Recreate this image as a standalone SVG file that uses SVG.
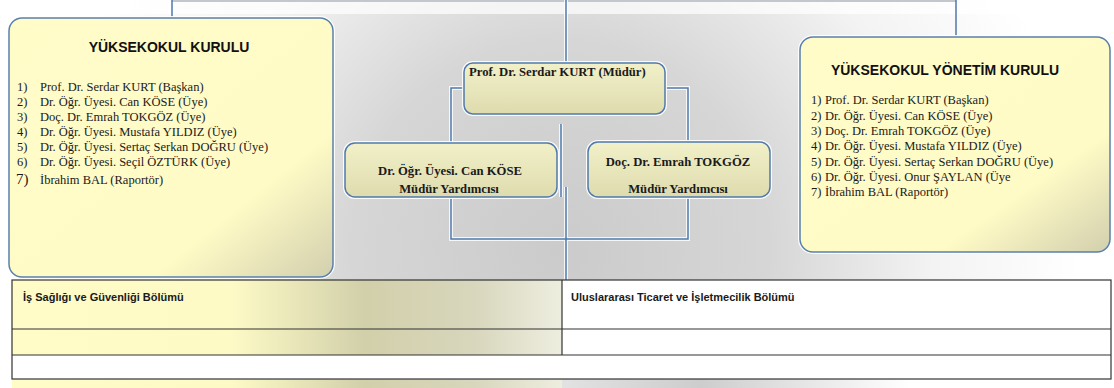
<svg xmlns="http://www.w3.org/2000/svg" width="1114" height="388" viewBox="0 0 1114 388">
<style>
.conn{fill:none;stroke:#4f79aa;stroke-width:1.5}
.halo{fill:none;stroke:#ffffff;stroke-width:4;opacity:0.8}
.big{fill:url(#bigFill);stroke:#5a80ab;stroke-width:1.5}
.mid{fill:url(#midFill);stroke:#4f79aa;stroke-width:1.5}
.glow{fill:none;stroke:#ffffff;stroke-width:4;opacity:0.9}
.title{font-family:"Liberation Sans",Arial,sans-serif;font-weight:bold;font-size:14px;fill:#111;text-anchor:middle}
.list{font-family:"Liberation Serif","Times New Roman",serif;font-size:12.5px;fill:#1a1a1a}
.mtxt{font-family:"Liberation Serif","Times New Roman",serif;font-weight:bold;font-size:12.7px;fill:#1a1a1a}
.ttxt{font-family:"Liberation Sans",Arial,sans-serif;font-weight:bold;font-size:11px;fill:#1a1a1a}
.cell{stroke:#333;stroke-width:1.2}
</style>
<defs>
<radialGradient id="bg" cx="560" cy="250" r="520" gradientUnits="userSpaceOnUse">
<stop offset="0" stop-color="#cbcbcb"/>
<stop offset="0.4" stop-color="#d6d6d6"/>
<stop offset="0.72" stop-color="#f3f3f3"/>
<stop offset="1" stop-color="#ffffff"/>
</radialGradient>
<linearGradient id="bigFill" x1="0" y1="0" x2="1" y2="1">
<stop offset="0" stop-color="#fffcc9"/>
<stop offset="0.72" stop-color="#fffbc6"/>
<stop offset="1" stop-color="#d2cfae"/>
</linearGradient>
<linearGradient id="midFill" x1="0" y1="0" x2="0" y2="1">
<stop offset="0" stop-color="#f2f0c8"/>
<stop offset="1" stop-color="#dedcae"/>
</linearGradient>
<linearGradient id="yelStrip" x1="12" y1="0" x2="562" y2="0" gradientUnits="userSpaceOnUse">
<stop offset="0" stop-color="#fffcc8"/>
<stop offset="0.4" stop-color="#fdfac6"/>
<stop offset="0.64" stop-color="#d2d0aa"/>
<stop offset="0.84" stop-color="#d8d6bc"/>
<stop offset="1" stop-color="#eeeee0"/>
</linearGradient>
<linearGradient id="grayStrip" x1="562" y1="0" x2="910" y2="0" gradientUnits="userSpaceOnUse">
<stop offset="0" stop-color="#e2e2e2"/>
<stop offset="0.4" stop-color="#cdcdcd"/>
<stop offset="1" stop-color="#ffffff"/>
</linearGradient>
</defs>

<g id="background">
<rect x="0" y="0" width="1114" height="388" fill="#ffffff"/>
<rect x="0" y="0" width="1114" height="280" fill="url(#bg)"/>
<rect x="0" y="0" width="1114" height="14" fill="#ffffff" opacity="0.7"/>
<rect x="12" y="280" width="550" height="108" fill="url(#yelStrip)"/>
<rect x="562" y="280" width="552" height="108" fill="url(#grayStrip)"/>
</g>

<g id="connectors">
<path d="M172 1 H956" fill="none" stroke="#c3c8cf" stroke-width="2"/>
<path class="conn" d="M172 0 V18"/>
<path class="conn" d="M956 0 V37"/>
<path class="halo" d="M566 0 V63"/>
<path class="conn" d="M566 0 V63"/>
<path class="halo" d="M464 88 H451 V143 M665 88 H688 V142 M451 197 V239 H688 V197 M561 124 V197 M566 187 V280"/>
<path class="conn" d="M464 88 H451 V143"/>
<path class="conn" d="M665 88 H688 V142"/>
<path class="conn" d="M451 197 V239 H688 V197"/>
<path class="conn" d="M561 124 V197"/>
<path class="conn" d="M566 187 V280"/>
</g>

<g id="yuksekokul-kurulu">
<rect class="glow" x="9" y="18" width="324" height="259" rx="13"/>
<rect class="big" x="9" y="18" width="324" height="259" rx="13"/>
<text class="title" x="169" y="52">YÜKSEKOKUL KURULU</text>
<text class="list" y="91"><tspan x="17">1)</tspan><tspan x="40">Prof. Dr. Serdar KURT (Başkan)</tspan></text>
<text class="list" y="106"><tspan x="17">2)</tspan><tspan x="40">Dr. Öğr. Üyesi. Can KÖSE (Üye)</tspan></text>
<text class="list" y="121"><tspan x="17">3)</tspan><tspan x="40">Doç. Dr. Emrah TOKGÖZ (Üye)</tspan></text>
<text class="list" y="136"><tspan x="17">4)</tspan><tspan x="40">Dr. Öğr. Üyesi. Mustafa YILDIZ (Üye)</tspan></text>
<text class="list" y="151"><tspan x="17">5)</tspan><tspan x="40">Dr. Öğr. Üyesi. Sertaç Serkan DOĞRU (Üye)</tspan></text>
<text class="list" y="166"><tspan x="17">6)</tspan><tspan x="40">Dr. Öğr. Üyesi. Seçil ÖZTÜRK (Üye)</tspan></text>
<text class="list" y="184"><tspan x="16" font-size="15px">7)</tspan><tspan x="40">İbrahim BAL (Raportör)</tspan></text>
</g>

<g id="mudur">
<rect class="glow" x="464" y="63" width="201" height="51" rx="9"/>
<rect class="mid" x="464" y="63" width="201" height="51" rx="9"/>
<text class="mtxt" x="469" y="76">Prof. Dr. Serdar KURT (Müdür)</text>
</g>

<g id="mudur-yardimcisi-1">
<rect class="glow" x="345" y="143" width="212" height="54" rx="10"/>
<rect class="mid" x="345" y="143" width="212" height="54" rx="10"/>
<text class="mtxt" x="450" y="175" text-anchor="middle">Dr. Öğr. Üyesi. Can KÖSE</text>
<text class="mtxt" x="449" y="193" text-anchor="middle">Müdür Yardımcısı</text>
</g>

<g id="mudur-yardimcisi-2">
<rect class="glow" x="588" y="142" width="182" height="55" rx="10"/>
<rect class="mid" x="588" y="142" width="182" height="55" rx="10"/>
<text class="mtxt" x="678" y="166" text-anchor="middle">Doç. Dr. Emrah TOKGÖZ</text>
<text class="mtxt" x="678" y="193" text-anchor="middle">Müdür Yardımcısı</text>
</g>

<g id="yuksekokul-yonetim-kurulu">
<rect class="glow" x="800" y="37" width="310" height="215" rx="13"/>
<rect class="big" x="800" y="37" width="310" height="215" rx="13"/>
<text class="title" x="945" y="75">YÜKSEKOKUL YÖNETİM KURULU</text>
<text class="list" y="104"><tspan x="811">1)</tspan><tspan x="825">Prof. Dr. Serdar KURT (Başkan)</tspan></text>
<text class="list" y="120"><tspan x="811">2)</tspan><tspan x="825">Dr. Öğr. Üyesi. Can KÖSE (Üye)</tspan></text>
<text class="list" y="135"><tspan x="811">3)</tspan><tspan x="825">Doç. Dr. Emrah TOKGÖZ (Üye)</tspan></text>
<text class="list" y="150"><tspan x="811">4)</tspan><tspan x="825">Dr. Öğr. Üyesi. Mustafa YILDIZ (Üye)</tspan></text>
<text class="list" y="166"><tspan x="811">5)</tspan><tspan x="825">Dr. Öğr. Üyesi. Sertaç Serkan DOĞRU (Üye)</tspan></text>
<text class="list" y="181"><tspan x="811">6)</tspan><tspan x="825">Dr. Öğr. Üyesi. Onur ŞAYLAN (Üye</tspan></text>
<text class="list" y="196"><tspan x="811">7)</tspan><tspan x="825">İbrahim BAL (Raportör)</tspan></text>
</g>

<g id="bolumler-table">
<rect x="562" y="280" width="549" height="75" fill="#ffffff"/>
<rect x="12" y="355" width="1099" height="24" fill="#ffffff"/>
<rect class="cell" x="12" y="280" width="1099" height="99" fill="none"/>
<line class="cell" x1="12" y1="329" x2="1111" y2="329"/>
<line class="cell" x1="12" y1="355" x2="1111" y2="355"/>
<line class="cell" x1="562" y1="280" x2="562" y2="355"/>
<text class="ttxt" x="23" y="301">İş Sağlığı ve Güvenliği Bölümü</text>
<text class="ttxt" x="571" y="301">Uluslararası Ticaret ve İşletmecilik Bölümü</text>
</g>
</svg>
